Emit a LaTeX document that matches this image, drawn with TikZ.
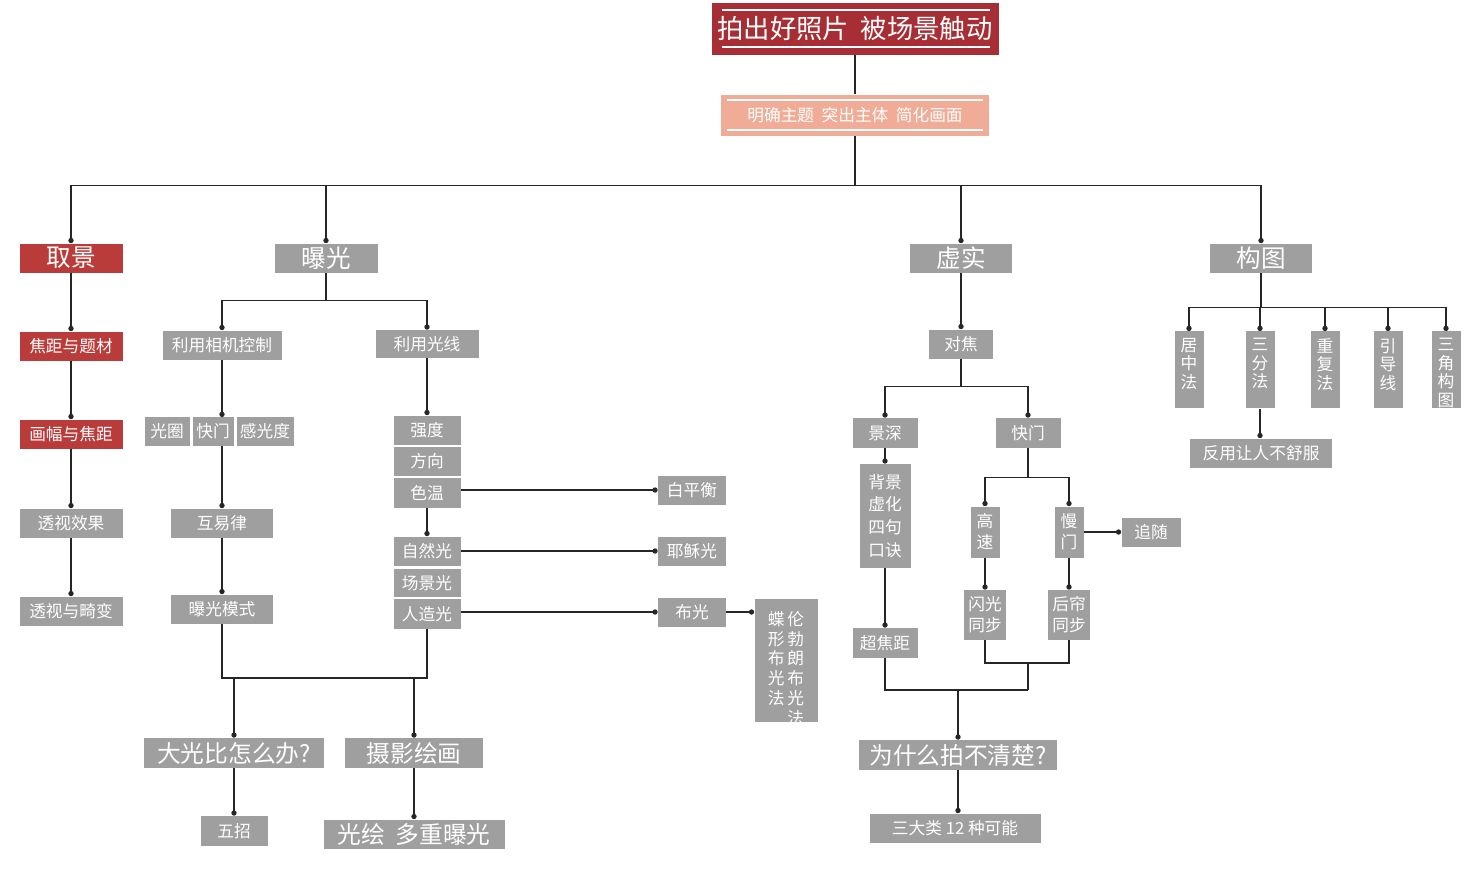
\documentclass[tikz,border=0pt]{standalone}
\usepackage{fontspec}
\setmainfont{Noto Sans CJK SC}
\usetikzlibrary{arrows.meta}
\definecolor{boxgray}{RGB}{160,159,159}
\definecolor{keyred}{RGB}{186,60,58}
\definecolor{titlered}{RGB}{166,46,52}
\definecolor{subpink}{RGB}{240,172,150}
\tikzset{
  box/.style={fill=boxgray, text=white, inner sep=0pt, align=center, font=\fontsize{9.5}{12}\selectfont},
  bigbox/.style={box, font=\fontsize{13.5}{15}\selectfont},
  redbox/.style={box, fill=keyred},
  line/.style={draw=black!85, line width=0.7pt},
  dotto/.style={line, -{Circle[length=3pt]}},
}
\newcommand{\bx}[5][]{\node[box, #1, minimum width=#4*0.2mm, minimum height=#5*0.2mm] (#2) at (#3) }

\begin{document}
\begin{tikzpicture}[x=0.2mm, y=-0.2mm]
    \useasboundingbox (0,0) rectangle (1476,877);
    % top
    \bx[fill=titlered, font=\fontsize{15}{17}\selectfont]{title}{855,29}{287}{52} {拍出好照片\ \ 被场景触动};
    \draw[white, line width=0.8pt] (722,10) -- (990,10) (722,47) -- (990,47);
    \bx[fill=subpink]{focus}{855,115}{268}{41} {明确主题\ \ 突出主体\ \ 简化画面};
    \draw[white, line width=0.8pt] (727,100) -- (983,100) (727,130) -- (983,130);
    \bx[redbox, font=\fontsize{14}{16}\selectfont]{qujing}{71,258}{103}{29} {取景};
    \bx[font=\fontsize{14}{16}\selectfont]{baoguang}{326,258}{103}{29} {曝光};
    \bx[font=\fontsize{14}{16}\selectfont]{xushi}{961,258}{102}{29} {虚实};
    \bx[font=\fontsize{14}{16}\selectfont]{goutu}{1261,258}{102}{29} {构图};

    \draw[line] (title.south) -- (focus.north);
    \draw[line] (focus.south) -- ++(0,50) coordinate (b0);
    \foreach \n in {qujing, baoguang, xushi, goutu}
        \draw[dotto] (b0) -| (\n.north);

    % qujing
    \bx[redbox]{jiaoju}{71,346}{103}{29} {焦距与题材};
    \bx[redbox]{huafu}{71,434}{103}{29} {画幅与焦距};
    \bx{toushi}{71,523}{103}{29} {透视效果};
    \bx{jibian}{71,611}{103}{29} {透视与畸变};
    \draw[dotto] (qujing) -- (jiaoju);
    \draw[dotto] (jiaoju) -- (huafu);
    \draw[dotto] (huafu) -- (toushi);
    \draw[dotto] (toushi) -- (jibian);

    % baoguang
    \bx{xiangji}{222,345}{119}{29} {利用相机控制};
    \bx{guangxian}{427,344}{103}{28} {利用光线};
    \draw[line] (baoguang.south) -- ++(0,28) coordinate (b1);
    \draw[dotto] (b1) -| (xiangji.north);
    \draw[dotto] (b1) -| (guangxian.north);
    \bx{guangquan}{167,431}{45}{29} {光圈};
    \bx{kuaimen}{213,431}{41}{29} {快门};
    \bx{iso}{265,431}{57}{29} {感光度};
    \coordinate (k0) at (222,417);
    \draw[dotto] (xiangji.south) -- (k0);
    \bx{huyi}{222,523}{102}{29} {互易律};
    \bx{moshi}{222,609}{102}{29} {曝光模式};
    \draw[dotto] (222,446) -- (huyi.north);
    \draw[dotto] (huyi) -- (moshi);
    \bx{qiangdu}{427,430}{67}{29} {强度};
    \bx{fangxiang}{427,461}{67}{29} {方向};
    \bx{sewen}{427,493}{67}{30} {色温};
    \bx{ziran}{427,551}{67}{29} {自然光};
    \bx{changjing}{427,583}{67}{28} {场景光};
    \bx{renzao}{427,614}{67}{30} {人造光};
    \draw[dotto] (guangxian) -- (qiangdu);
    \draw[dotto] (sewen) -- (ziran);
    \bx{baiping}{692,490}{68}{29} {白平衡};
    \bx{yesu}{692,551}{68}{29} {耶稣光};
    \bx{buguang}{692,612}{68}{29} {布光};
    \bx{lunbolang}{786,660}{63}{123} {};
    \node[text=white, font=\fontsize{9.5}{11}\selectfont, anchor=north, align=center] (lbtext) at (786,605)
        {\begin{tabular}{@{}c@{\,}c@{}}蝶&伦\\形&勃\\布&朗\\光&布\\法&光\\ &法\end{tabular}};
    \draw[dotto] (sewen.east |- baiping) -- (baiping);
    \draw[dotto] (ziran) -- (yesu);
    \draw[dotto] (renzao.east |- buguang) -- (buguang);
    \draw[dotto] (buguang) -- (lunbolang.west |- buguang);
    \bx[bigbox]{guangbi}{234,753}{180}{30} {大光比怎么办?};
    \bx[bigbox]{huihua}{414,753}{138}{30} {摄影绘画};
    \bx{wuzhao}{234,831}{67}{30} {五招};
    \bx[bigbox]{guanghui}{414,834}{181}{29} {光绘\ \ 多重曝光};
    \draw[line] (moshi.south) -- (222,678) -- (427,678) -- (renzao.south);
    \draw[dotto] (guangbi |- 0,678) -- (guangbi.north);
    \draw[dotto] (huihua |- 0,678) -- (huihua.north);
    \draw[dotto] (guangbi) -- (wuzhao);
    \draw[dotto] (huihua) -- (guanghui);

    % xushi
    \bx{duijiao}{961,344}{64}{29} {对焦};
    \draw[dotto] (xushi) -- (duijiao);
    \bx{jingshen}{885,433}{65}{30} {景深};
    \bx{kuaimen2}{1028,433}{65}{30} {快门};
    \draw[line] (duijiao.south) -- ++(0,28) coordinate (b2);
    \draw[dotto] (b2) -| (jingshen.north);
    \draw[dotto] (b2) -| (kuaimen2.north);
    \bx[font=\fontsize{9.5}{13}\selectfont]{koujue}{885,516}{51}{104} {背景\\虚化\\四句\\口诀};
    \bx{chaojiao}{885,643}{65}{30} {超焦距};
    \draw[dotto] (jingshen) -- (koujue);
    \draw[dotto] (koujue) -- (chaojiao);
    \bx{gaosu}{985,532}{29}{51} {高\\速};
    \bx{manmen}{1069,532}{29}{51} {慢\\门};
    \draw[line] (kuaimen2.south) -- ++(0,29) coordinate (b3);
    \draw[dotto] (b3) -| (gaosu.north);
    \draw[dotto] (b3) -| (manmen.north);
    \bx{zhuisui}{1151,532}{59}{29} {追随};
    \draw[dotto] (manmen) -- (zhuisui);
    \bx{shanguang}{985,615}{42}{50} {闪光\\同步};
    \bx{houlian}{1069,615}{42}{50} {后帘\\同步};
    \draw[dotto] (gaosu) -- (shanguang);
    \draw[dotto] (manmen) -- (houlian);
    \draw[line] (shanguang.south) |- (1028,663) -| (houlian.south);
    \draw[line] (1028,663) -- (1028,690);
    \draw[line] (chaojiao.south) |- (1028,690);
    \bx[bigbox]{buqing}{958,755}{198}{30} {为什么拍不清楚?};
    \bx{kenen}{955,828}{171}{29} {三大类 12 种可能};
    \draw[dotto] (buqing |- 0,690) -- (buqing.north);
    \draw[dotto] (buqing) -- (kenen.north -| buqing);

    % goutu
    \draw[line] (goutu.south) -- ++(0,35) coordinate (b4);
    \foreach \n/\x/\t in {juzhong/1189/居\\中\\法, sanfen/1260/三\\分\\法, chongfu/1325/重\\复\\法,
        yindao/1388/引\\导\\线, sanjiao/1446/三\\角\\构\\图} {
        \bx[anchor=north]{\n}{\x,331}{29}{77} {};
        \node[text=white, font=\fontsize{9.5}{10.5}\selectfont, align=center, anchor=north, inner sep=0pt] at (\x,338) {\t};
        \draw[dotto] (b4) -| (\n.north);
    }
    \bx{fanyong}{1261,453}{142}{29} {反用让人不舒服};
    \draw[dotto] (sanfen.south) -- (sanfen.south |- fanyong.north);
\end{tikzpicture}
\end{document}
